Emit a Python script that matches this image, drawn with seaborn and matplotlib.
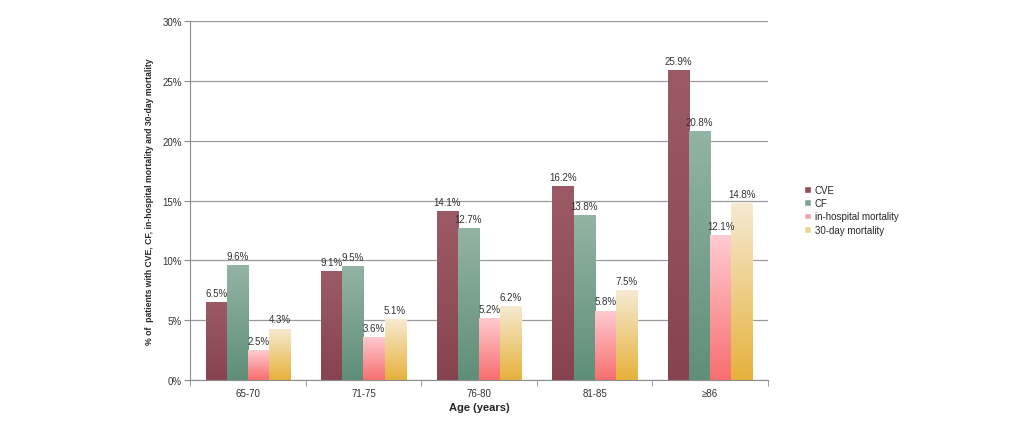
import matplotlib
matplotlib.use("Agg")
import matplotlib.pyplot as plt
import matplotlib.ticker as mticker
from matplotlib.colors import LinearSegmentedColormap
import numpy as np
import pandas as pd
import seaborn as sns

age_groups = ['65-70', '71-75', '76-80', '81-85', '≥86']
series = ['CVE', 'CF', 'in-hospital mortality', '30-day mortality']
cve = [6.5, 9.1, 14.1, 16.2, 25.9]
cf = [9.6, 9.5, 12.7, 13.8, 20.8]
in_hosp = [2.5, 3.6, 5.2, 5.8, 12.1]
day30 = [4.3, 5.1, 6.2, 7.5, 14.8]

# top / bottom colours of each bar gradient
grad = {
    'CVE': ('#9C5A67', '#874450'),
    'CF': ('#93B3A3', '#5F8F79'),
    'in-hospital mortality': ('#FFCBD0', '#F76F70'),
    '30-day mortality': ('#F6EAD2', '#E6B23C'),
}
legend_cols = {'CVE': '#8E4E5A', 'CF': '#7FA392',
               'in-hospital mortality': '#F3A3AE', '30-day mortality': '#EBD596'}

df = pd.DataFrame({
    'age': age_groups * 4,
    'series': [s for s in series for _ in age_groups],
    'value': cve + cf + in_hosp + day30,
})

sns.set_style("white")
plt.rcParams['font.family'] = ['Liberation Sans', 'DejaVu Sans']

fig = plt.figure(figsize=(10.33, 4.39), dpi=100)
ax = fig.add_axes([0.184, 0.132, 0.5595, 0.818])

sns.barplot(data=df, x='age', y='value', hue='series', hue_order=series,
            order=age_groups, palette=legend_cols, width=0.73, gap=0, ax=ax,
            saturation=1, legend=True)

ax.set_ylim(0, 30)
ax.set_xlim(-0.5, 4.5)

# gradient fill + value labels
for cont, s in zip(ax.containers, series):
    cmap = LinearSegmentedColormap.from_list(s, [grad[s][1], grad[s][0]])
    for bar, val in zip(cont, df[df.series == s].value):
        x0, w, h = bar.get_x(), bar.get_width(), bar.get_height()
        img = ax.imshow(np.linspace(0, 1, 64).reshape(-1, 1), cmap=cmap,
                        extent=[x0, x0 + w, 0, h], origin='lower',
                        aspect='auto', zorder=bar.get_zorder() + 0.1)
        img.set_clip_path(bar)
        ax.text(x0 + w / 2, h + 0.35, f'{val:.1f}%', ha='center', va='bottom',
                fontsize=7, color='#333333')
ax.set_aspect('auto')

ax.yaxis.set_major_locator(mticker.MultipleLocator(5))
ax.yaxis.set_major_formatter(mticker.FuncFormatter(lambda v, p: f'{v:.0f}%'))
ax.grid(axis='y', color='#9a9a9a', linewidth=0.9)
ax.set_axisbelow(True)
for sp in ['top', 'right']:
    ax.spines[sp].set_visible(False)
for sp in ['left', 'bottom']:
    ax.spines[sp].set_color('#8c8c8c')
ax.tick_params(axis='y', left=True, length=4, color='#8c8c8c', labelsize=7, labelcolor='#333333', pad=2)
ax.tick_params(axis='x', bottom=False, labelsize=7, labelcolor='#333333', pad=2)
ax.set_xticks(np.arange(-0.5, 5, 1), minor=True)
ax.tick_params(axis='x', which='minor', bottom=True, length=4, color='#8c8c8c')

ax.set_xlabel('Age (years)', fontsize=8, fontweight='bold', labelpad=3)
ax.set_ylabel('% of  patients with CVE, CF, in-hospital mortality and 30-day mortality',
              fontsize=6.2, fontweight='bold', labelpad=6)

ax.legend(title=None, frameon=False, fontsize=7, loc='center left',
          bbox_to_anchor=(0.77, 0.52), bbox_transform=fig.transFigure,
          handlelength=0.7, handleheight=0.7, handletextpad=0.4, labelspacing=0.35)

fig.savefig('out.png', dpi=100)
